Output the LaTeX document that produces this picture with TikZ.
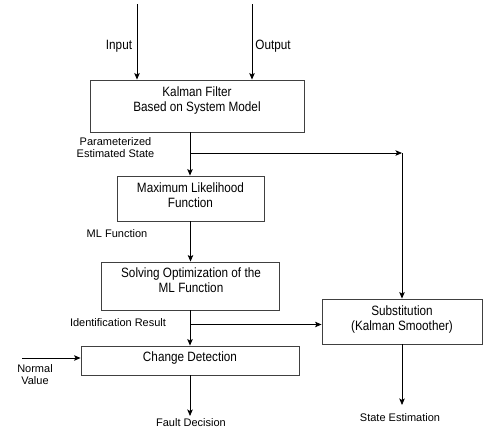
\documentclass[tikz,border=0pt]{standalone}
\usepackage{fontspec}
\setmainfont{Liberation Sans}
\newfontfamily\boxfnt{Liberation Sans}[FakeStretch=0.87]
\usetikzlibrary{arrows.meta,calc}
\tikzset{
  blk/.style={draw=black!75, line width=0.9pt, rectangle, inner sep=0pt},
  btxt/.style={align=center, inner sep=0pt, anchor=north, font=\boxfnt\fontsize{13.5}{15}\selectfont},
  ltxt/.style={align=center, inner sep=0pt, font=\fontsize{11}{12}\selectfont},
  arr/.style={-{Stealth[length=6.5pt,width=5.5pt,inset=1.5pt]}, line width=0.8pt, black},
  ln/.style={line width=0.8pt, black},
}
\begin{document}
\begin{tikzpicture}[x=1pt,y=-1pt]
\useasboundingbox (0,0) rectangle (487,432);
% boxes
\node[blk, minimum width=214pt, minimum height=52pt] (kf) at (197,106) {};
\node[blk, minimum width=147pt, minimum height=45pt] (ml) at (190.5,198.5) {};
\node[blk, minimum width=178pt, minimum height=48pt] (so) at (190.5,286) {};
\node[blk, minimum width=160pt, minimum height=45pt] (sub) at (402,321.5) {};
\node[blk, minimum width=218pt, minimum height=29pt] (cd) at (190,360.5) {};
% box texts
\node[btxt] (kft) at (197,86.5) {Kalman Filter\\Based on System Model};
\node[btxt] (mlt) at (190.5,183) {Maximum Likelihood\\Function};
\node[btxt] (sot) at (191,267.5) {Solving Optimization of the\\ML Function};
\node[btxt] (subt) at (402,306) {Substitution\\(Kalman Smoother)};
\node[btxt] (cdt) at (190,351.8) {Change Detection};
% labels
\node[btxt, anchor=base] (inl) at (119,49) {Input};
\node[btxt, anchor=base] (outl) at (273,49) {Output};
\node[ltxt, anchor=north] (pes) at (115.5,137) {Parameterized\\Estimated State};
\node[ltxt, anchor=base] (mlf) at (117,237) {ML Function};
\node[ltxt, anchor=base] (idr) at (118,326) {Identification Result};
\node[ltxt, anchor=north] (nvl) at (35,364) {Normal\\Value};
\node[ltxt, anchor=base] (fdl) at (191,426.5) {Fault Decision};
\node[ltxt, anchor=base] (sel) at (400,421) {State Estimation};
% coordinates
\coordinate (inTop) at (137,4);
\coordinate (outTop) at (252,4);
\coordinate (b1) at (190,153);
\coordinate (c1) at (402,153);
\coordinate (b2) at (190,324.5);
\coordinate (nv) at (22,358);
\coordinate (fd) at (190,416);
\coordinate (se) at (402,405);
% connectors
\draw[arr] (inTop) -- (inTop |- kf.north);
\draw[arr] (outTop) -- (outTop |- kf.north);
\draw[ln] (b1 |- kf.south) -- (b1);
\draw[arr] (b1) -- (b1 |- ml.north);
\draw[arr] (b1) -- (c1);
\draw[arr] (c1) -- (sub.north);
\draw[arr] (ml.south) -- (so.north);
\draw[ln] (b2 |- so.south) -- (b2);
\draw[arr] (b2) -- (cd.north);
\draw[arr] (b2) -- (b2 -| sub.west);
\draw[arr] (nv) -- (nv -| cd.west);
\draw[arr] (cd.south) -- (fd);
\draw[arr] (sub.south) -- (se);
\end{tikzpicture}
\end{document}
